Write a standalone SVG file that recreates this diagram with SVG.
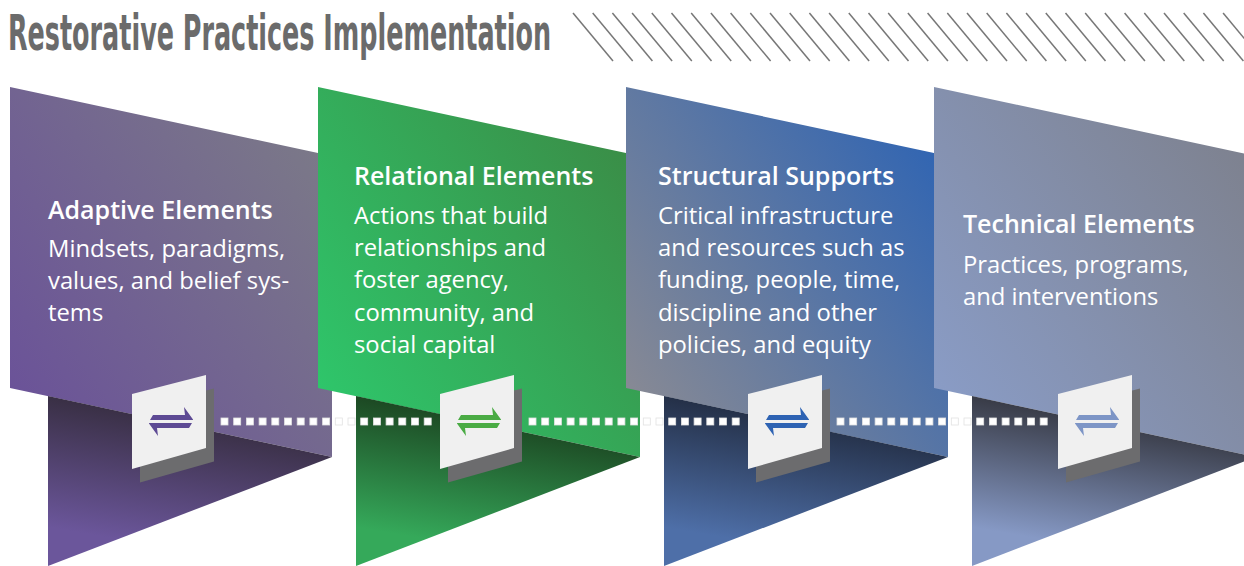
<svg xmlns="http://www.w3.org/2000/svg" width="1244" height="566" viewBox="0 0 1244 566">
<defs>
<style>
.title{font-family:"DejaVu Sans Condensed","Roboto","Liberation Sans",sans-serif;font-weight:bold;font-size:49px;fill:#6b6b6b}
.hatch line{stroke:#777;stroke-width:1.5}
.head{font-family:"Open Sans","Noto Sans",sans-serif;font-weight:600;font-size:25px;fill:#fff}
.body{font-family:"Open Sans","Noto Sans",sans-serif;font-weight:400;font-size:23.8px;fill:#fff}
.card{fill:#f0f0f0}
.shadow{fill:#6c6c6e}
.dot{fill:#fff;stroke:#e2e2e2;stroke-width:0.8}
</style>
<linearGradient id="u1" x1="0" y1="0.9" x2="1" y2="0.1"><stop offset="0" stop-color="#6a5199"/><stop offset="1" stop-color="#7c7b87"/></linearGradient>
<linearGradient id="l1" x1="0.3" y1="0.1" x2="0.1" y2="0.8"><stop offset="0" stop-color="#3a3046"/><stop offset="1" stop-color="#6b569b"/></linearGradient>
<linearGradient id="u2" x1="0" y1="0.9" x2="1" y2="0.1"><stop offset="0" stop-color="#2ec86c"/><stop offset="1" stop-color="#3b8a45"/></linearGradient>
<linearGradient id="l2" x1="0.3" y1="0.1" x2="0.1" y2="0.8"><stop offset="0" stop-color="#1d4a24"/><stop offset="1" stop-color="#35a95a"/></linearGradient>
<linearGradient id="u3" x1="0" y1="0.9" x2="1" y2="0.1"><stop offset="0" stop-color="#8b8b93"/><stop offset="1" stop-color="#2c63b4"/></linearGradient>
<linearGradient id="l3" x1="0.3" y1="0.1" x2="0.1" y2="0.8"><stop offset="0" stop-color="#253149"/><stop offset="1" stop-color="#4e6fa8"/></linearGradient>
<linearGradient id="u4" x1="0" y1="0.9" x2="1" y2="0.1"><stop offset="0" stop-color="#8a9dc8"/><stop offset="1" stop-color="#7d808c"/></linearGradient>
<linearGradient id="l4" x1="0.3" y1="0.1" x2="0.1" y2="0.8"><stop offset="0" stop-color="#3a3d49"/><stop offset="1" stop-color="#8699c5"/></linearGradient>
<path id="arrows" d="M150,420 L153,415 L185,415 L184,407 L193,419.5 L193,420 Z M192,423 L189,428 L157,428 L158,436 L149,423.5 L149,423 Z"/>
<g id="icon">
<polygon class="shadow" points="140,407.5 214,388.5 214,461.5 140,482.5"/>
<polygon class="card" points="132,394 206,375 206,448 132,469"/>
</g>
</defs>
<rect width="1244" height="566" fill="#fff"/>
<g id="title">
<text class="title" x="8" y="50" textLength="543" lengthAdjust="spacingAndGlyphs">Restorative Practices Implementation</text>
</g>
<g id="hatch" class="hatch">
<line x1="573" y1="13" x2="613" y2="61"/><line x1="592.7" y1="13" x2="632.7" y2="61"/><line x1="612.4" y1="13" x2="652.4" y2="61"/><line x1="632.1" y1="13" x2="672.1" y2="61"/><line x1="651.8" y1="13" x2="691.8" y2="61"/><line x1="671.5" y1="13" x2="711.5" y2="61"/><line x1="691.2" y1="13" x2="731.2" y2="61"/><line x1="710.9" y1="13" x2="750.9" y2="61"/><line x1="730.6" y1="13" x2="770.6" y2="61"/><line x1="750.3" y1="13" x2="790.3" y2="61"/><line x1="770" y1="13" x2="810" y2="61"/><line x1="789.7" y1="13" x2="829.7" y2="61"/><line x1="809.4" y1="13" x2="849.4" y2="61"/><line x1="829.1" y1="13" x2="869.1" y2="61"/><line x1="848.8" y1="13" x2="888.8" y2="61"/><line x1="868.5" y1="13" x2="908.5" y2="61"/><line x1="888.2" y1="13" x2="928.2" y2="61"/><line x1="907.9" y1="13" x2="947.9" y2="61"/><line x1="927.6" y1="13" x2="967.6" y2="61"/><line x1="947.3" y1="13" x2="987.3" y2="61"/><line x1="967" y1="13" x2="1007" y2="61"/><line x1="986.7" y1="13" x2="1026.7" y2="61"/><line x1="1006.4" y1="13" x2="1046.4" y2="61"/><line x1="1026.1" y1="13" x2="1066.1" y2="61"/><line x1="1045.8" y1="13" x2="1085.8" y2="61"/><line x1="1065.5" y1="13" x2="1105.5" y2="61"/><line x1="1085.2" y1="13" x2="1125.2" y2="61"/><line x1="1104.9" y1="13" x2="1144.9" y2="61"/><line x1="1124.6" y1="13" x2="1164.6" y2="61"/><line x1="1144.3" y1="13" x2="1184.3" y2="61"/><line x1="1164" y1="13" x2="1204" y2="61"/><line x1="1183.7" y1="13" x2="1223.7" y2="61"/><line x1="1203.4" y1="13" x2="1243.4" y2="61"/><line x1="1223.1" y1="13" x2="1263.1" y2="61"/>
</g>
<g id="panel-adaptive">
<polygon fill="url(#u1)" points="10,87 332,156 332,457 10,388"/>
<polygon fill="url(#l1)" points="48,396 332,457 48,566"/>
</g>
<g id="panel-relational">
<polygon fill="url(#u2)" points="318,87 640,156 640,457 318,388"/>
<polygon fill="url(#l2)" points="356,396 640,457 356,566"/>
</g>
<g id="panel-structural">
<polygon fill="url(#u3)" points="626,87 948,156 948,457 626,388"/>
<polygon fill="url(#l3)" points="664,396 948,457 664,566"/>
</g>
<g id="panel-technical">
<polygon fill="url(#u4)" points="934,87 1256,156 1256,457 934,388"/>
<polygon fill="url(#l4)" points="972,396 1256,457 972,566"/>
</g>
<g id="labels">
<text class="head" x="48" y="219">Adaptive Elements</text>
<text class="body" x="48" y="257">Mindsets, paradigms,</text>
<text class="body" x="48" y="289">values, and belief sys-</text>
<text class="body" x="48" y="321">tems</text>
<text class="head" x="354" y="185">Relational Elements</text>
<text class="body" x="354" y="224">Actions that build</text>
<text class="body" x="354" y="256">relationships and</text>
<text class="body" x="354" y="288">foster agency,</text>
<text class="body" x="354" y="321">community, and</text>
<text class="body" x="354" y="353">social capital</text>
<text class="head" x="658" y="185">Structural Supports</text>
<text class="body" x="658" y="224">Critical infrastructure</text>
<text class="body" x="658" y="256">and resources such as</text>
<text class="body" x="658" y="288">funding, people, time,</text>
<text class="body" x="658" y="321">discipline and other</text>
<text class="body" x="658" y="353">policies, and equity</text>
<text class="head" x="963" y="233">Technical Elements</text>
<text class="body" x="963" y="273">Practices, programs,</text>
<text class="body" x="963" y="305">and interventions</text>
</g>
<g id="connectors">
<g id="conn1">
<rect class="dot" x="221" y="418" width="7" height="7"/><rect class="dot" x="233.7" y="418" width="7" height="7"/><rect class="dot" x="246.4" y="418" width="7" height="7"/><rect class="dot" x="259.1" y="418" width="7" height="7"/><rect class="dot" x="271.8" y="418" width="7" height="7"/><rect class="dot" x="284.5" y="418" width="7" height="7"/><rect class="dot" x="297.2" y="418" width="7" height="7"/><rect class="dot" x="309.9" y="418" width="7" height="7"/><rect class="dot" x="322.6" y="418" width="7" height="7"/><rect class="dot" x="335.3" y="418" width="7" height="7"/><rect class="dot" x="348" y="418" width="7" height="7"/><rect class="dot" x="360.7" y="418" width="7" height="7"/><rect class="dot" x="373.4" y="418" width="7" height="7"/><rect class="dot" x="386.1" y="418" width="7" height="7"/><rect class="dot" x="398.8" y="418" width="7" height="7"/><rect class="dot" x="411.5" y="418" width="7" height="7"/><rect class="dot" x="424.2" y="418" width="7" height="7"/>
</g>
<use href="#conn1" x="308"/>
<use href="#conn1" x="616"/>
</g>
<g id="node-adaptive-icon">
<use href="#icon"/>
<use href="#arrows" fill="#5d4a94"/>
</g>
<g id="node-relational-icon" transform="translate(308,0)">
<use href="#icon"/>
<use href="#arrows" fill="#4aab44"/>
</g>
<g id="node-structural-icon" transform="translate(616,0)">
<use href="#icon"/>
<use href="#arrows" fill="#2e63b3"/>
</g>
<g id="node-technical-icon" transform="translate(926,0)">
<use href="#icon"/>
<use href="#arrows" fill="#7d95c6"/>
</g>
</svg>
